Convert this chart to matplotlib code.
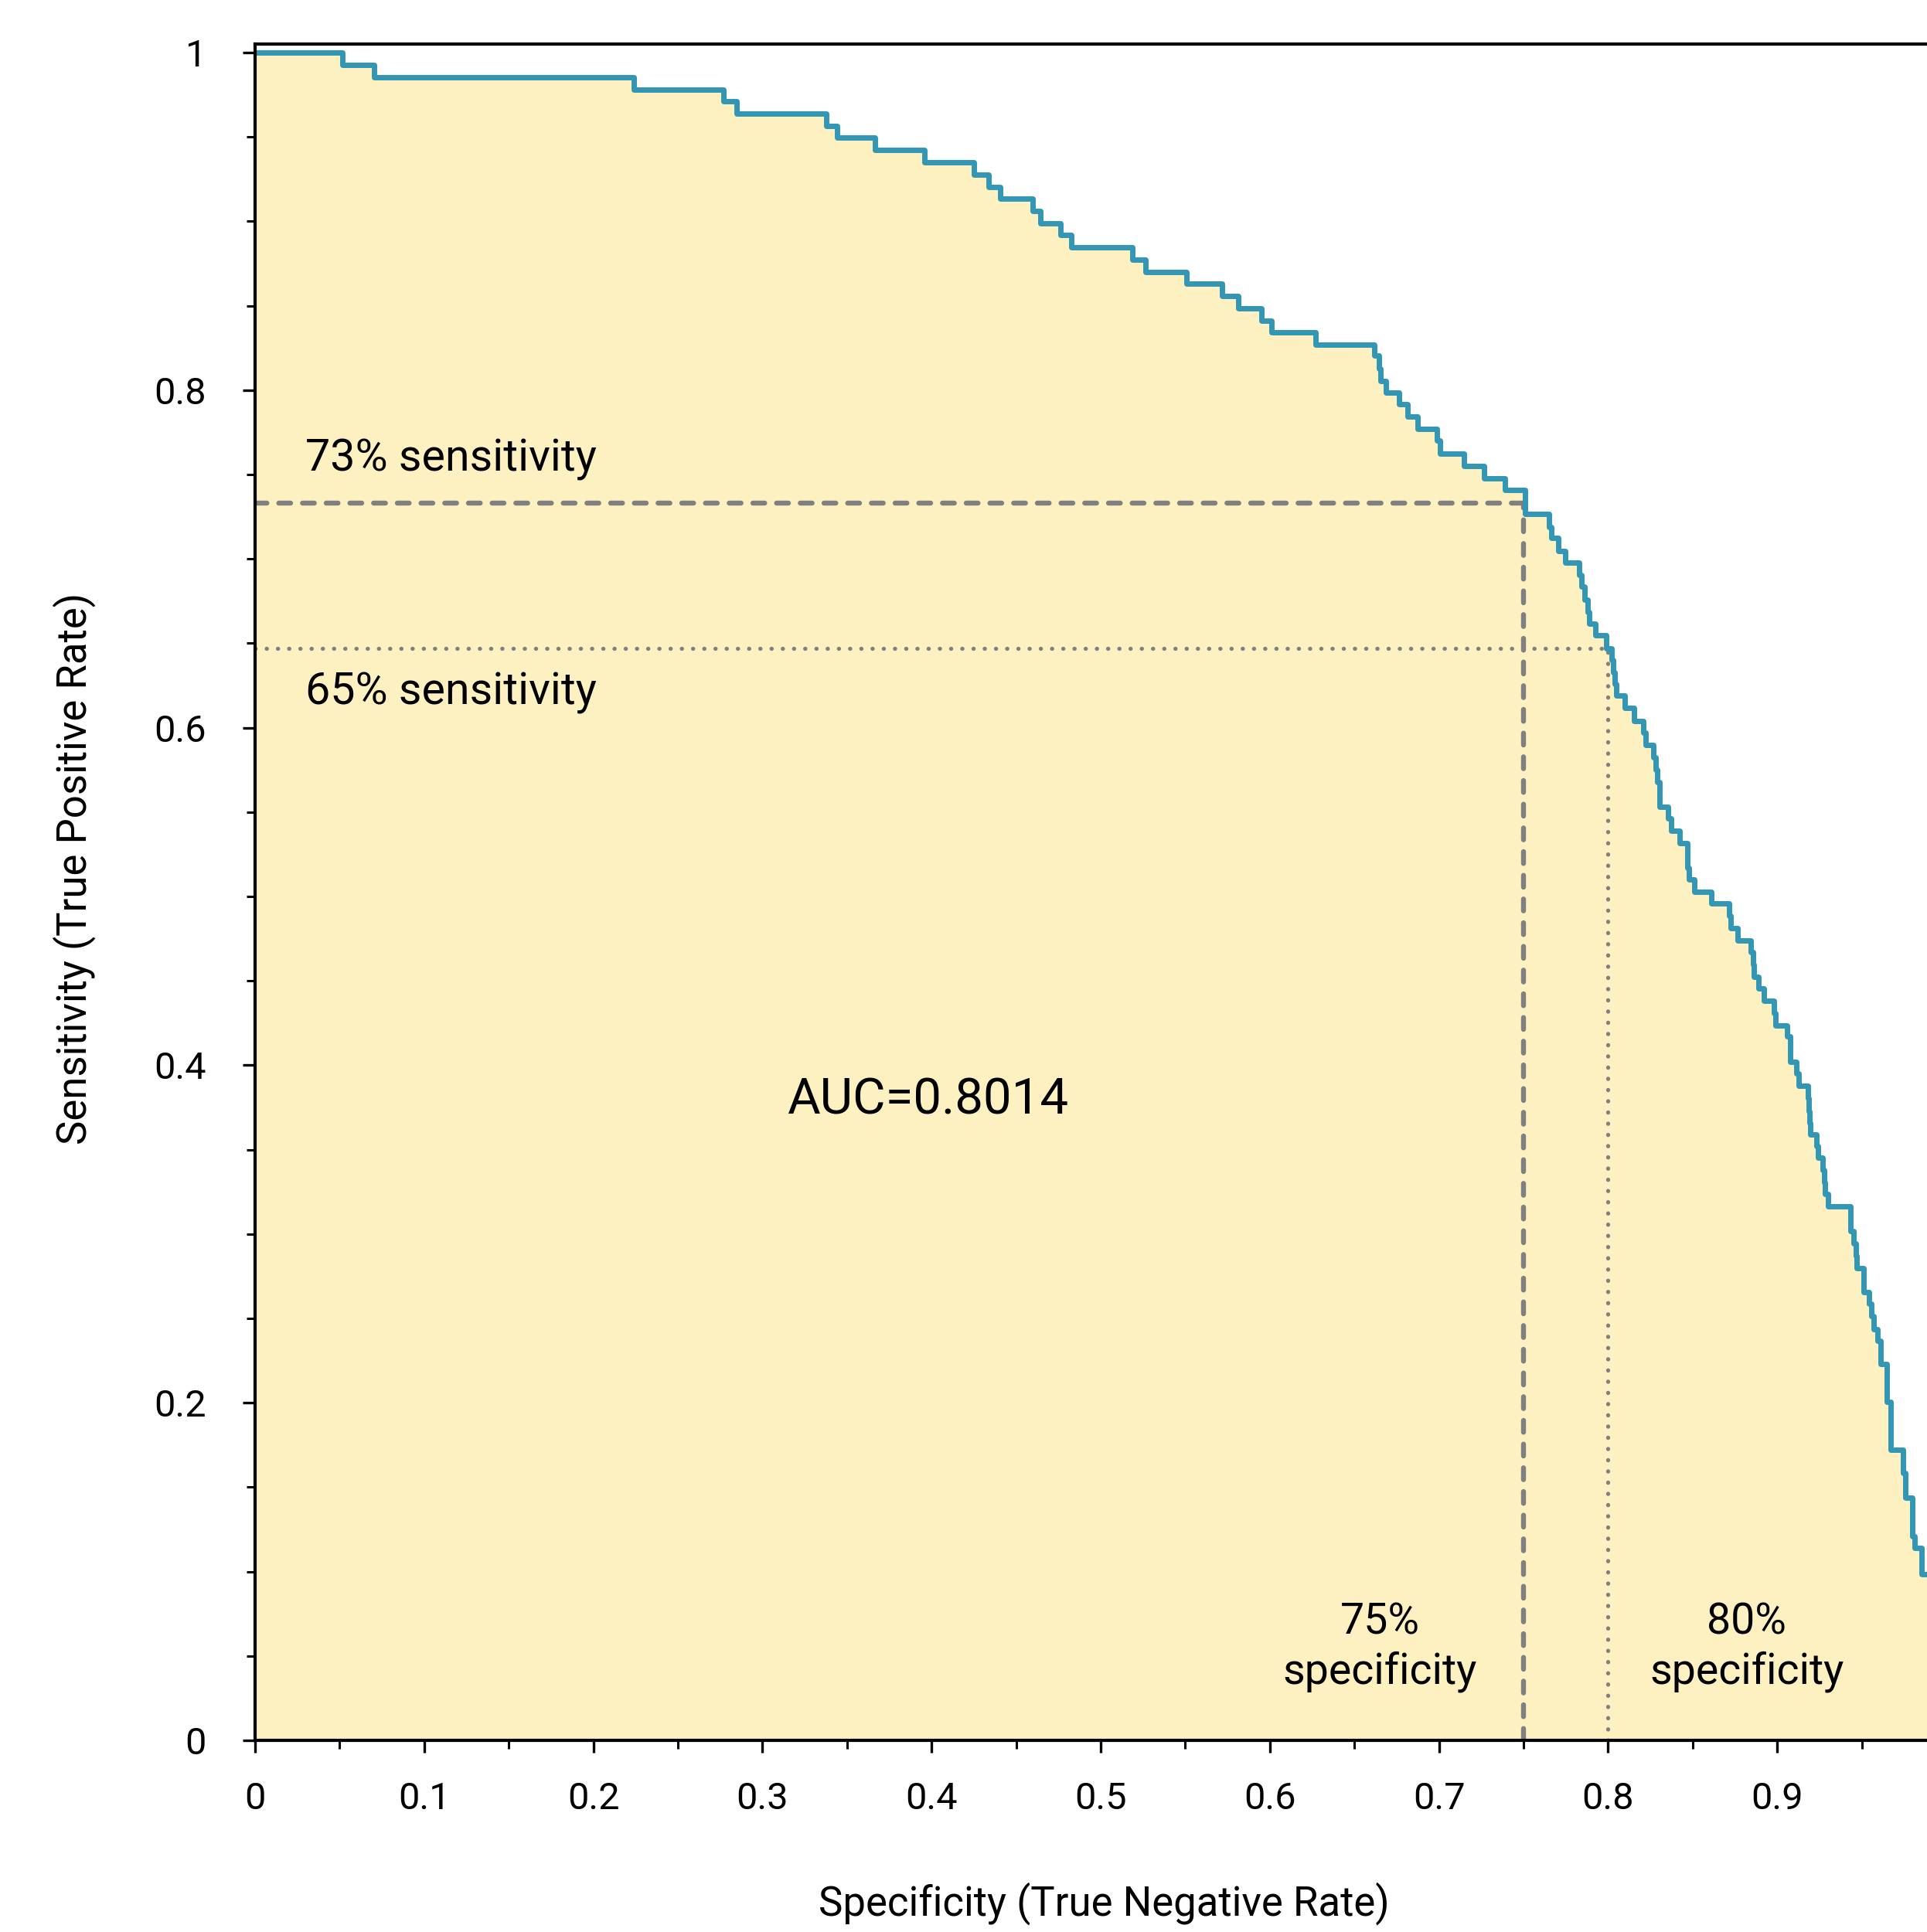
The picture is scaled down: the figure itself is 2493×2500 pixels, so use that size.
import matplotlib
matplotlib.use("Agg")
from matplotlib import pyplot as plt
from matplotlib.ticker import FixedLocator, MultipleLocator

plt.rcParams['font.family'] = ['Roboto', 'DejaVu Sans']

# ROC curve: sensitivity level that starts at each specificity
specificity = [0.0, 0.0516, 0.0705, 0.224, 0.2768, 0.2845, 0.3378, 0.3443, 0.3665, 0.3957,
               0.4249, 0.4335, 0.4406, 0.4596, 0.4644, 0.4762, 0.4824, 0.5186, 0.5263, 0.5507,
               0.5716, 0.5814, 0.5952, 0.6008, 0.6269, 0.662, 0.6646, 0.6656, 0.6685, 0.6762,
               0.6813, 0.6874, 0.6987, 0.7007, 0.7149, 0.7268, 0.7389, 0.7507, 0.7652, 0.7664,
               0.7708, 0.7745, 0.7829, 0.7843, 0.786, 0.788, 0.789, 0.7927, 0.7987, 0.8023,
               0.8032, 0.8038, 0.8047, 0.8098, 0.8153, 0.8207, 0.8224, 0.827, 0.828, 0.829,
               0.8304, 0.8355, 0.8371, 0.8425, 0.8468, 0.8476, 0.8512, 0.8613, 0.8714, 0.8726,
               0.8766, 0.8844, 0.8856, 0.8861, 0.889, 0.8921, 0.8982, 0.899, 0.906, 0.9077,
               0.9112, 0.9129, 0.918, 0.9186, 0.9193, 0.9198, 0.9232, 0.9241, 0.9267, 0.9276,
               0.9284, 0.9302, 0.9435, 0.9452, 0.9466, 0.9471, 0.9509, 0.9544, 0.9557, 0.9569,
               0.9592, 0.9613, 0.965, 0.9672, 0.9743, 0.976, 0.9799, 0.9812, 0.9854, 1.0]
sensitivity = [1.0, 0.9925, 0.9854, 0.9782, 0.971, 0.9638, 0.9566, 0.9494, 0.9422, 0.935,
               0.9277, 0.9204, 0.9132, 0.9062, 0.8988, 0.8917, 0.8844, 0.8772, 0.8701, 0.863,
               0.8556, 0.8486, 0.8413, 0.8341, 0.827, 0.8204, 0.8127, 0.8055, 0.7984, 0.7918,
               0.7843, 0.7769, 0.7699, 0.7624, 0.7549, 0.7478, 0.7407, 0.7264, 0.7189, 0.7124,
               0.7048, 0.6977, 0.6906, 0.6835, 0.676, 0.6687, 0.6616, 0.6546, 0.6471, 0.64,
               0.6329, 0.6258, 0.6188, 0.6117, 0.604, 0.5969, 0.5895, 0.5824, 0.5749, 0.5677,
               0.553, 0.546, 0.5389, 0.5318, 0.517, 0.5099, 0.5029, 0.4958, 0.4884, 0.4813,
               0.474, 0.4671, 0.4597, 0.4524, 0.4455, 0.438, 0.4308, 0.4235, 0.4169, 0.4022,
               0.395, 0.3879, 0.3806, 0.3729, 0.3659, 0.3589, 0.352, 0.3451, 0.3378, 0.3304,
               0.3235, 0.3162, 0.3018, 0.2944, 0.2871, 0.2799, 0.2654, 0.2586, 0.2513, 0.2438,
               0.2369, 0.2232, 0.2007, 0.1721, 0.1583, 0.1436, 0.1211, 0.1141, 0.0986, 0.0986]

# cut-offs: (sensitivity, specificity)
dash_cut = (0.733, 0.75)
dot_cut = (0.647, 0.80)

x_ticks = [0, 0.1, 0.2, 0.3, 0.4, 0.5, 0.6, 0.7, 0.8, 0.9]
x_labels = ["0", "0.1", "0.2", "0.3", "0.4", "0.5", "0.6", "0.7", "0.8", "0.9"]
y_ticks = [0, 0.2, 0.4, 0.6, 0.8, 1.0]
y_labels = ["0", "0.2", "0.4", "0.6", "0.8", "1"]

fig = plt.figure(figsize=(24.93, 25.0), dpi=100)
ax = fig.add_axes([0.1324, 0.0992, 0.8676, 0.878])

ax.fill_between(specificity, sensitivity, 0, step="post", color="#FDF1C2", lw=0)

gray = "#808080"
ax.plot([0, dash_cut[1]], [dash_cut[0], dash_cut[0]], color=gray, lw=4.6,
        dashes=(2.4, 2.4), dash_capstyle="round")
ax.plot([dash_cut[1], dash_cut[1]], [0, dash_cut[0]], color=gray, lw=4.6,
        dashes=(2.4, 2.4), dash_capstyle="round")
ax.plot([0, dot_cut[1]], [dot_cut[0], dot_cut[0]], color=gray, lw=3.8,
        dashes=(0.05, 2.7), dash_capstyle="round")
ax.plot([dot_cut[1], dot_cut[1]], [0, dot_cut[0]], color=gray, lw=3.8,
        dashes=(0.05, 2.7), dash_capstyle="round")

ax.step(specificity, sensitivity, where="post", color="#3296B4", lw=5)

ax.set_xlim(0, 0.9886)
ax.set_ylim(0, 1.005)

for s in ["left", "bottom", "top"]:
    ax.spines[s].set_linewidth(3)
ax.spines["right"].set_visible(False)

ax.xaxis.set_major_locator(FixedLocator(x_ticks))
ax.set_xticklabels(x_labels)
ax.yaxis.set_major_locator(FixedLocator(y_ticks))
ax.set_yticklabels(y_labels)
ax.xaxis.set_minor_locator(MultipleLocator(0.05))
ax.yaxis.set_minor_locator(MultipleLocator(0.05))
ax.tick_params(which="major", length=11.5, width=2.4, labelsize=35)
ax.tick_params(which="minor", length=8, width=2.2)
ax.tick_params(axis="x", which="major", pad=27)
ax.tick_params(axis="y", which="major", pad=34)

ax.set_xlabel("Specificity (True Negative Rate)", fontsize=38, va="center")
ax.set_ylabel("Sensitivity (True Positive Rate)", fontsize=38, va="center")
ax.xaxis.set_label_coords(0.5076, -0.0961)
ax.yaxis.set_label_coords(-0.108, 0.514)

ax.text(0.0297, 0.759, "73% sensitivity", fontsize=41.3, ha="left", va="center")
ax.text(0.0297, 0.6206, "65% sensitivity", fontsize=41.3, ha="left", va="center")
ax.text(0.3977, 0.3794, "AUC=0.8014", fontsize=47, ha="center", va="center")
ax.text(0.665, 0.0554, "75%\nspecificity", fontsize=40, ha="center", va="center",
        linespacing=1.25)
ax.text(0.882, 0.0554, "80%\nspecificity", fontsize=40, ha="center", va="center",
        linespacing=1.25)

plt.savefig("out.png", dpi=100)
